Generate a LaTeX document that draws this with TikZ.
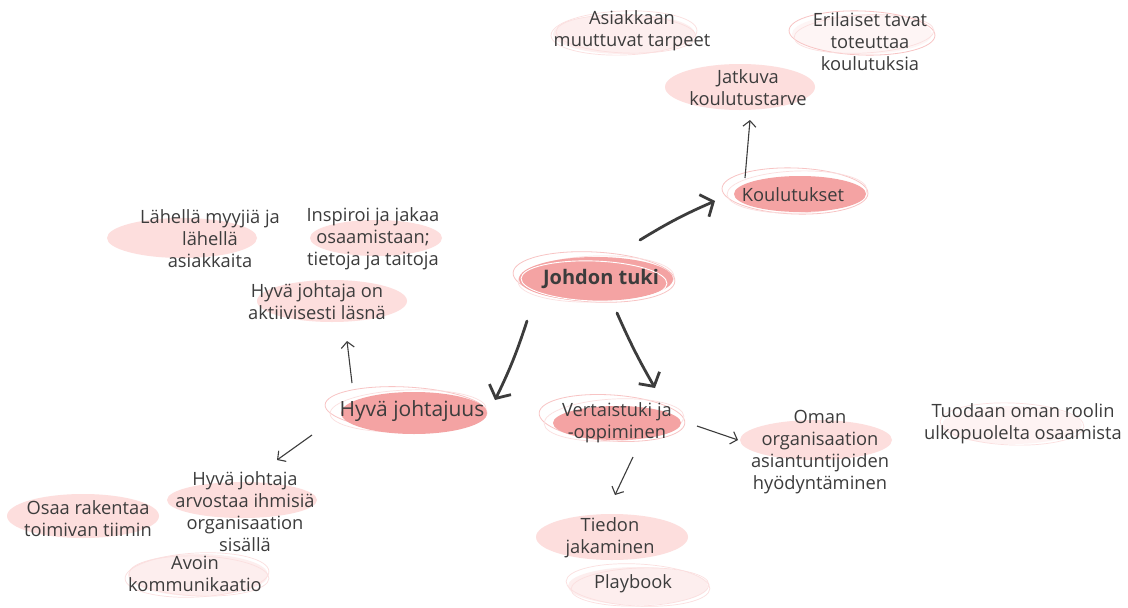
\documentclass[tikz,border=0pt]{standalone}
\usepackage{fontspec}
\setmainfont{Open Sans}
\usetikzlibrary{arrows.meta,calc}
\definecolor{ink}{HTML}{3C3C3C}
\definecolor{pinkD}{HTML}{F4A3A3}
\definecolor{pinkL}{HTML}{FDDEDD}
\definecolor{pinkP}{HTML}{FDEEEE}
\definecolor{pinkS}{HTML}{F8C4C4}
\begin{document}
\begin{tikzpicture}[x=1pt,y=-1pt,
  lbl/.style={text=ink, align=center, inner sep=0pt, yshift=-1.5pt, font=\fontsize{18.3}{22}\selectfont},
  hub/.style={lbl, font=\fontsize{20}{24}\selectfont\bfseries},
  branch/.style={lbl, font=\fontsize{21}{24}\selectfont},
  darkblob/.style={fill=pinkD},
  lightblob/.style={fill=pinkL},
  paleblob/.style={fill=pinkP},
  sketch/.style={draw=pinkS, line width=0.8pt},
  faint/.style={draw=pinkS!55, line width=0.7pt},
  gloss/.style={draw=white, line width=0.9pt},
  thinarrow/.style={draw=ink, line width=1.1pt, -{Straight Barb[length=6pt,width=13pt]}},
  thickarrow/.style={draw=ink, line width=2.8pt, line cap=round, -{Straight Barb[length=10pt,width=24pt]}}
]
\fill[white] (0,0) rectangle (1128,608);
\useasboundingbox (0,0) rectangle (1128,608);

% ---------- background blobs ----------
% Asiakkaan muuttuvat tarpeet
\fill[paleblob] (624,34) ellipse (71pt and 20pt);
\draw[faint, rotate around={2:(624,33)}] (624,33) ellipse (73pt and 22pt);
\draw[faint, rotate around={-2:(626,34)}] (626,34) ellipse (70pt and 19pt);
% Erilaiset tavat toteuttaa koulutuksia
\fill[pinkP!60] (862,34) ellipse (70pt and 20pt);
\draw[sketch, rotate around={-2:(862,33)}] (862,33) ellipse (73pt and 22pt);
\draw[faint, rotate around={3:(864,34)}] (864,34) ellipse (70pt and 19pt);
% Jatkuva koulutustarve
\fill[lightblob] (740,87) ellipse (75pt and 23pt);
% Koulutukset
\draw[sketch, rotate around={-2:(795,191)}] (795,191) ellipse (73pt and 23pt);
\draw[faint, rotate around={2:(797,192)}] (797,192) ellipse (70pt and 21pt);
\fill[darkblob] (800,194) ellipse (66pt and 18pt);
% Johdon tuki
\draw[sketch, rotate around={-3:(594,277)}] (594,277) ellipse (81pt and 25pt);
\draw[faint, rotate around={2:(596,279)}] (596,279) ellipse (78pt and 23pt);
\fill[darkblob] (596,279) ellipse (77pt and 22pt);
\draw[gloss, rotate around={-2:(594,281)}] (594,281) ellipse (73pt and 20pt);
% Hyvä johtajuus
\draw[sketch, rotate around={-3:(406,409)}] (406,409) ellipse (81pt and 22pt);
\draw[faint, rotate around={2:(408,411)}] (408,411) ellipse (78pt and 21pt);
\fill[darkblob] (414,413) ellipse (73pt and 21pt);
% Hyvä johtaja on aktiivisesti läsnä
\fill[lightblob] (332,301) ellipse (75pt and 21pt);
% Lähellä myyjiä ja lähellä asiakkaita
\fill[lightblob] (182,238) ellipse (75pt and 20pt);
% Inspiroi ja jakaa osaamistaan
\fill[lightblob] (376,238) ellipse (66pt and 18pt);
% Hyvä johtaja arvostaa ihmisiä
\fill[lightblob] (242,500) ellipse (75pt and 18pt);
% Osaa rakentaa toimivan tiimin
\fill[lightblob] (83,516) ellipse (76pt and 22pt);
% Avoin kommunikaatio
\fill[paleblob] (198,575) ellipse (70pt and 21pt);
\draw[faint, rotate around={3:(197,575)}] (197,575) ellipse (72pt and 22pt);
\draw[faint, rotate around={-2:(199,576)}] (199,576) ellipse (70pt and 20pt);
% Vertaistuki ja -oppiminen
\draw[sketch, rotate around={-4:(612,418)}] (612,418) ellipse (73pt and 23pt);
\draw[faint, rotate around={3:(614,420)}] (614,420) ellipse (70pt and 21pt);
\fill[darkblob] (617,423) ellipse (64pt and 17pt);
% Oman organisaation asiantuntijoiden hyödyntäminen
\fill[lightblob] (816,440) ellipse (76pt and 20pt);
% Tuodaan oman roolin ulkopuolelta osaamista
\fill[pinkP!70] (1012,425) ellipse (70pt and 19pt);
\draw[faint, rotate around={-2:(1012,424)}] (1012,424) ellipse (72pt and 21pt);
% Tiedon jakaminen
\fill[lightblob] (612,537) ellipse (76pt and 23pt);
% Playbook
\fill[paleblob] (638,586) ellipse (70pt and 19pt);
\draw[faint, rotate around={-3:(638,585)}] (638,585) ellipse (72pt and 21pt);
\draw[faint, rotate around={2:(640,587)}] (640,587) ellipse (69pt and 19pt);

% ---------- labels ----------
\node[hub] (jt) at (601,277) {Johdon tuki};
\node[lbl] (kou) at (793,193) {Koulutukset};
\node[lbl] (jat) at (748,86) {Jatkuva\\koulutustarve};
\node[lbl] (asi) at (632,29) {Asiakkaan\\muuttuvat tarpeet};
\node[lbl] (eri) at (870,40) {Erilaiset tavat\\toteuttaa\\koulutuksia};
\node[branch] (hj) at (412,410) {Hyvä johtajuus};
\node[lbl] (akt) at (317,300) {Hyvä johtaja on\\aktiivisesti läsnä};
\node[lbl] (lah) at (210,237) {Lähellä myyjiä ja\\lähellä\\asiakkaita};
\node[lbl] (ins) at (373,237) {Inspiroi ja jakaa\\osaamistaan;\\tietoja ja taitoja};
\node[lbl] (arv) at (245,510) {Hyvä johtaja\\arvostaa ihmisiä\\organisaation\\sisällä};
\node[lbl] (osa) at (88,517) {Osaa rakentaa\\toimivan tiimin};
\node[lbl] (avo) at (195,572) {Avoin\\kommunikaatio};
\node[lbl] (ver) at (617,421) {Vertaistuki ja\\-oppiminen};
\node[lbl] (oma) at (820,451) {Oman\\organisaation\\asiantuntijoiden\\hyödyntäminen};
\node[lbl] (tuo) at (1023,422) {Tuodaan oman roolin\\ulkopuolelta osaamista};
\node[lbl] (tie) at (610,536) {Tiedon\\jakaminen};
\node[lbl] (pla) at (633,582) {Playbook};

% ---------- connectors ----------
\draw[thickarrow] ($(jt)+(39,-38.5)$) to[bend left=4] ($(kou)+(-78,6.5)$);
\draw[thickarrow] ($(jt)+(-74,42.5)$) to[bend left=4] ($(hj)+(83,-11.5)$);
\draw[thickarrow] ($(jt)+(16,34.5)$) to[bend right=3] ($(ver)+(38,-34.5)$);
\draw[thinarrow] ($(kou)+(-48,-16.5)$) -- ($(jat)+(2,32.5)$);
\draw[thinarrow] ($(hj)+(-60,-28.5)$) -- ($(akt)+(30,39.5)$);
\draw[thinarrow] ($(hj)+(-100,23.5)$) -- ($(arv)+(32,-51.5)$);
\draw[thinarrow] ($(ver)+(80,3.5)$) -- ($(oma)+(-82,-12.5)$);
\draw[thinarrow] ($(ver)+(16,34.5)$) -- ($(tie)+(5,-42.5)$);
\end{tikzpicture}
\end{document}
